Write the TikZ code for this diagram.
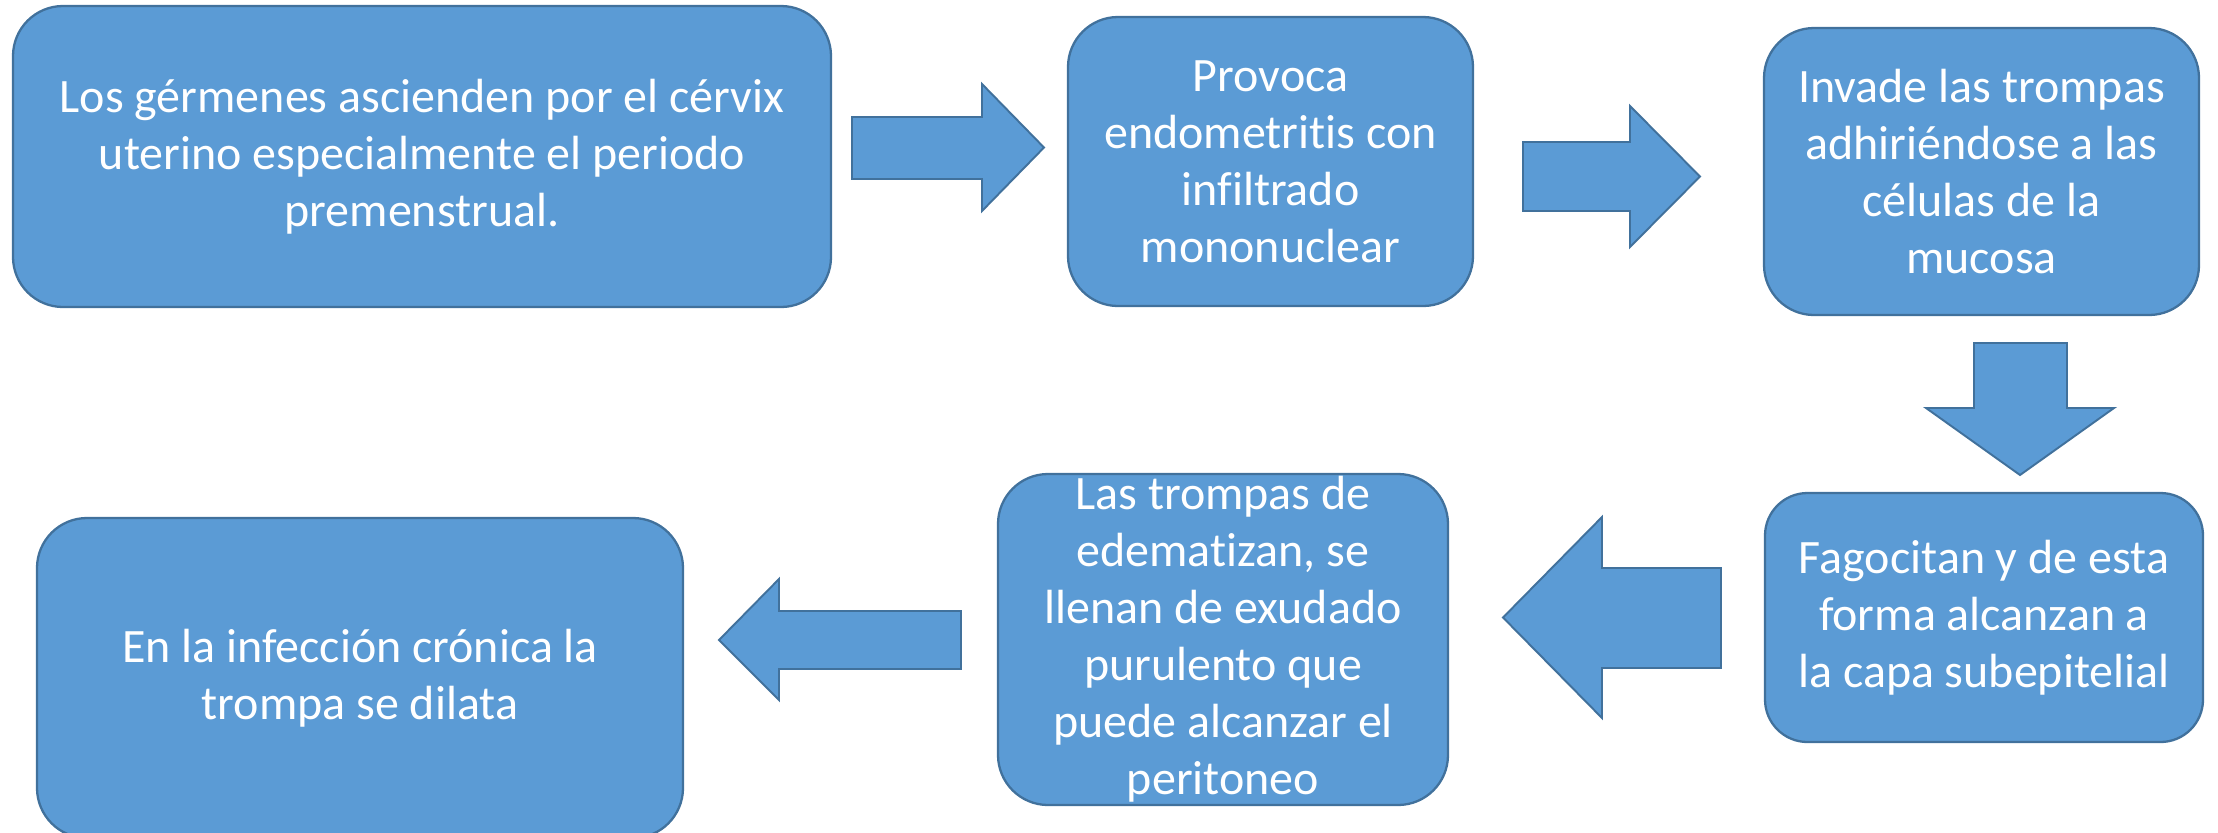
\documentclass[tikz,border=0pt]{standalone}
\usepackage{fontspec}
\setmainfont{Carlito}[Ligatures=NoCommon]
\usepackage{tikz}
\usetikzlibrary{calc}
\definecolor{boxfill}{HTML}{5B9BD5}
\definecolor{boxline}{HTML}{41719C}
\tikzset{
  paso/.style={draw=boxline, fill=boxfill, line width=1.3pt, rounded corners=1cm,
    text=white, align=center, inner sep=0pt,
    font=\fontsize{27.3}{32.4}\selectfont},
  flecha/.style={draw=boxline, fill=boxfill, line width=1.1pt, line join=miter}
}

\begin{document}
\begin{tikzpicture}
\useasboundingbox (0cm,0cm) rectangle (44.36cm,-16.64cm);
\node[paso, minimum width=16.36cm, minimum height=6.02cm] (1) at (8.44cm,-3.13cm) {Los gérmenes ascienden por el cérvix\\uterino especialmente el periodo\\premenstrual.};
\node[paso, minimum width=8.1cm, minimum height=5.78cm] (2) at (25.41cm,-3.23cm) {Provoca\\endometritis con\\infiltrado\\mononuclear};
\node[paso, minimum width=8.7cm, minimum height=5.74cm] (3) at (39.63cm,-3.43cm) {Invade las trompas\\adhiriéndose a las\\células de la\\mucosa};
\node[paso, minimum width=8.76cm, minimum height=4.98cm, rounded corners=0.85cm] (4) at (39.68cm,-12.35cm) {Fagocitan y de esta\\forma alcanzan a\\la capa subepitelial};
\node[paso, minimum width=9.0cm, minimum height=6.62cm] (5) at (24.46cm,-12.79cm) {Las trompas de\\edematizan, se\\llenan de exudado\\purulento que\\puede alcanzar el\\peritoneo};
\node[paso, minimum width=12.92cm, minimum height=6.4cm] (6) at (7.2cm,-13.56cm) {En la infección crónica la\\trompa se dilata};
% flechas de bloque
\draw[flecha] (17.04cm,-2.34cm) -- (19.64cm,-2.34cm) -- (19.64cm,-1.68cm) -- (20.88cm,-2.95cm) -- (19.64cm,-4.22cm) -- (19.64cm,-3.58cm) -- (17.04cm,-3.58cm) -- cycle;
\draw[flecha] (30.46cm,-2.84cm) -- (32.6cm,-2.84cm) -- (32.6cm,-2.12cm) -- (34.0cm,-3.53cm) -- (32.6cm,-4.94cm) -- (32.6cm,-4.22cm) -- (30.46cm,-4.22cm) -- cycle;
\draw[flecha] (39.48cm,-6.86cm) -- (41.34cm,-6.86cm) -- (41.34cm,-8.16cm) -- (42.28cm,-8.16cm) -- (40.4cm,-9.5cm) -- (38.52cm,-8.16cm) -- (39.48cm,-8.16cm) -- cycle;
\draw[flecha] (34.42cm,-11.36cm) -- (32.04cm,-11.36cm) -- (32.04cm,-10.34cm) -- (30.06cm,-12.35cm) -- (32.04cm,-14.36cm) -- (32.04cm,-13.36cm) -- (34.42cm,-13.36cm) -- cycle;
\draw[flecha] (19.22cm,-12.22cm) -- (15.58cm,-12.22cm) -- (15.58cm,-11.58cm) -- (14.38cm,-12.8cm) -- (15.58cm,-14.0cm) -- (15.58cm,-13.38cm) -- (19.22cm,-13.38cm) -- cycle;
\end{tikzpicture}
\end{document}
